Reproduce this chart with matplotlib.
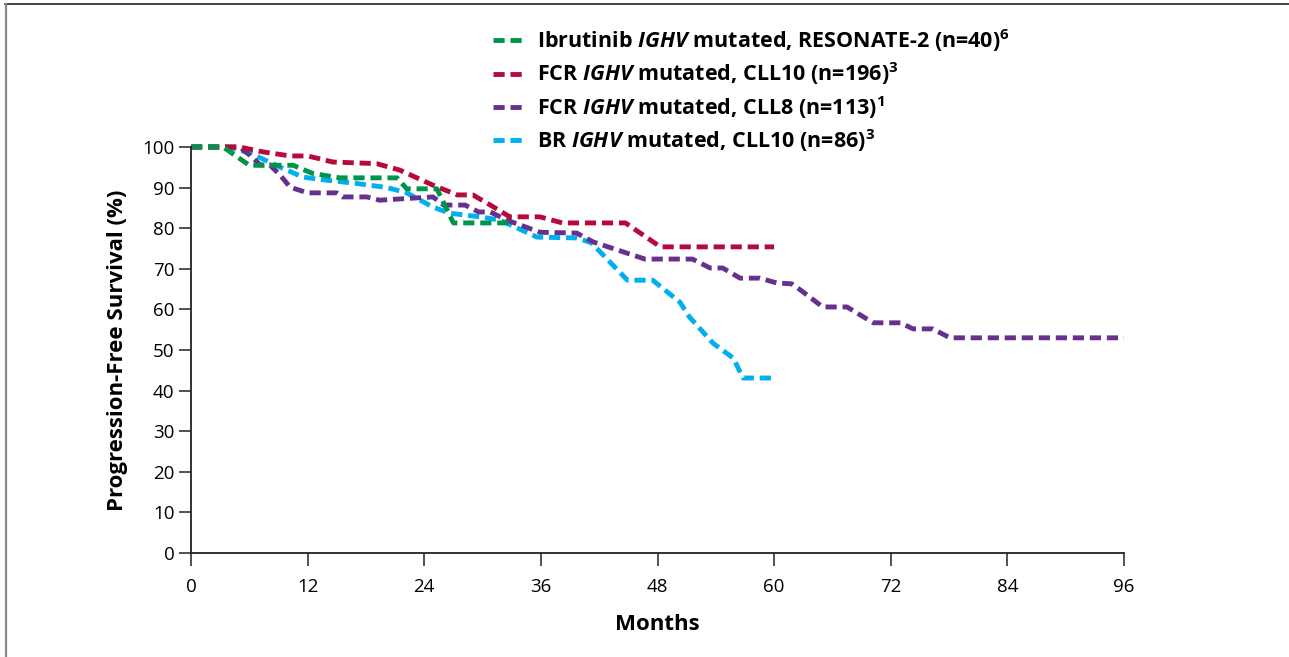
import matplotlib
matplotlib.use("Agg")
import matplotlib.pyplot as plt
from matplotlib.lines import Line2D

plt.rcParams['font.family'] = ['Open Sans', 'DejaVu Sans']
plt.rcParams['mathtext.fontset'] = 'custom'
plt.rcParams['mathtext.rm'] = 'Open Sans:bold'
plt.rcParams['mathtext.it'] = 'Open Sans:italic:bold'
plt.rcParams['mathtext.bf'] = 'Open Sans:bold'

# curves (months, PFS %)
ibr_m = [0, 3.3, 6, 10.5, 12.5, 15.3, 21.2, 22.2, 25.3, 27, 33]
ibr_p = [100, 100, 95.5, 95.5, 93.5, 92.4, 92.4, 89.7, 89.7, 81.3, 81.3]

fcr10_m = [0, 5, 7.4, 10.2, 12, 14.6, 19.1, 21.5, 24.9, 27.4, 29, 30.8, 32.8,
           35.9, 38.2, 44.7, 48.3, 60]
fcr10_p = [100, 100, 98.8, 97.8, 97.8, 96.3, 95.9, 94.3, 90.6, 88.2, 88.2, 85.7, 82.8,
           82.8, 81.3, 81.3, 75.4, 75.4]

fcr8_m = [0, 5, 6.3, 7.1, 8.1, 9.2, 10.2, 12, 15, 15.6, 18.1, 19.4, 22.8, 24.9,
          26, 28.2, 29.6, 30.8, 32.5, 35.9, 39.7, 41.4, 46.7, 51.6, 53.4, 54.7,
          56.5, 58.5, 60.3, 61.8, 62.7, 65, 67.5, 70.2, 73, 74.3, 76.3, 78.1, 96]
fcr8_p = [100, 100, 97.5, 95.6, 95.6, 93, 90.1, 88.7, 88.7, 87.7, 87.7, 86.9, 87.4, 87.7,
          85.7, 85.7, 84, 84, 82, 79, 78.8, 76.6, 72.4, 72.4, 70.2, 70.2,
          67.7, 67.7, 66.5, 66.3, 64.8, 60.6, 60.6, 56.7, 56.7, 55.2, 55.2, 53, 53]

br_m = [0, 3.7, 6.1, 9.2, 11.5, 13.3, 17.1, 20.2, 22.2, 24.9, 26.6, 29.7, 31.8,
        35.6, 39.7, 41.2, 44.9, 47.5, 50.3, 51.3, 53.7, 55.8, 56.8, 60]
br_p = [100, 100, 98.5, 95, 92.6, 92, 91, 90, 88.7, 85.2, 83.7, 82.8, 82,
        77.8, 77.6, 76.4, 67.2, 67.2, 61.8, 58.1, 51.7, 48, 43.1, 43.1]

labels = [r"Ibrutinib $\mathit{IGHV}$ mutated, RESONATE-2 (n=40)$^{6}$",
          r"FCR $\mathit{IGHV}$ mutated, CLL10 (n=196)$^{3}$",
          r"FCR $\mathit{IGHV}$ mutated, CLL8 (n=113)$^{1}$",
          r"BR $\mathit{IGHV}$ mutated, CLL10 (n=86)$^{3}$"]
colors = ['#00944a', '#b8093b', '#66308f', '#00b0ee']

xticks = [0, 12, 24, 36, 48, 60, 72, 84, 96]
yticks = [0, 10, 20, 30, 40, 50, 60, 70, 80, 90, 100]

fig = plt.figure(figsize=(12.89, 6.57), dpi=100)
ax = fig.add_axes([191/1289, 1 - 553/657, (1124-191)/1289, (553-147)/657])

series = [(ibr_m, ibr_p), (fcr10_m, fcr10_p), (fcr8_m, fcr8_p), (br_m, br_p)]
# draw so that the stacking looks like the reference
order = [3, 2, 1, 0]
handles = {}
for i in order:
    m, p = series[i]
    ln, = ax.plot(m, p, color=colors[i], lw=3.5, dashes=(2.3, 1.2),
                  clip_on=False, dash_capstyle='butt', label=labels[i])
    handles[i] = ln

ax.set_xlim(0, 96)
ax.set_ylim(0, 100)
ax.set_xticks(xticks)
ax.set_yticks(yticks)
ax.tick_params(axis='both', direction='out', length=9, width=1.2, labelsize=13.5,
               color='#333333')
ax.tick_params(axis='x', pad=9)
ax.tick_params(axis='y', pad=3)
for s in ['top', 'right']:
    ax.spines[s].set_visible(False)
for s in ['left', 'bottom']:
    ax.spines[s].set_linewidth(1.3)
    ax.spines[s].set_color('#222222')

ax.set_xlabel('Months', fontsize=16, fontweight='bold', labelpad=13)
ax.set_ylabel('Progression-Free Survival (%)', fontsize=16, fontweight='bold', labelpad=10)

leg = fig.legend([handles[i] for i in range(4)], labels,
                 loc='upper left', bbox_to_anchor=(493/1289, 1 - 27/657),
                 frameon=False, prop={'size': 15.5, 'weight': 'bold'},
                 handlelength=1.5, handletextpad=0.55,
                 labelspacing=0.3, borderaxespad=0, borderpad=0)

# thin frame around the figure (top and left visible)
fig.add_artist(Line2D([5/1289, 1], [1 - 4/657, 1 - 4/657], color='#222222', lw=1.2,
                      transform=fig.transFigure))
fig.add_artist(Line2D([6/1289, 6/1289], [0, 1 - 4/657], color='#888888', lw=1.6,
                      transform=fig.transFigure))

fig.savefig('out.png', dpi=100)
